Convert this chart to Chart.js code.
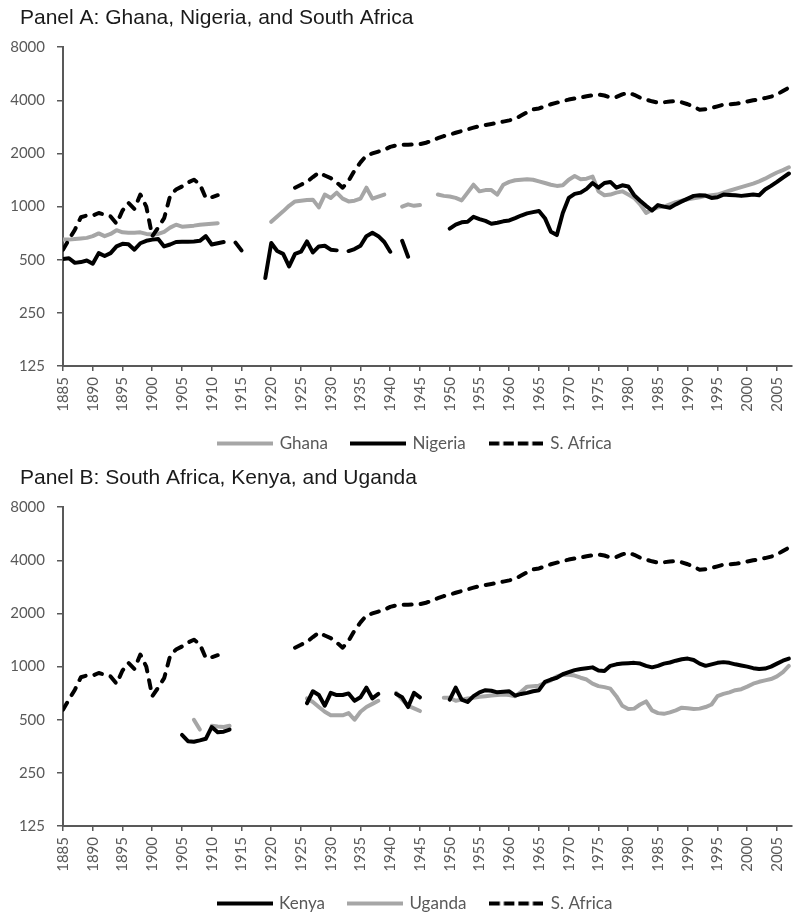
<!DOCTYPE html>
<html>
<head>
<meta charset="utf-8">
<script src="https://cdn.jsdelivr.net/npm/chart.js@4.4.1/dist/chart.umd.min.js"></script>
<style>
  html, body { margin: 0; padding: 0; background: #fff; overflow: hidden; }
  .panel { position: absolute; left: 0; width: 801px; height: 462px; }
  #panelA { top: 0; }
  #panelB { top: 460px; }
</style>
</head>
<body>
<div class="panel" id="panelA"><canvas id="chartA" width="801" height="462"></canvas></div>
<div class="panel" id="panelB"><canvas id="chartB" width="801" height="462"></canvas></div>
<script>
// Yıllar 1885 - 2007, değerler yıl sırasıyla (null = veri yok)
const years = [];
for (let y = 1885; y <= 2007; y++) years.push(y);

const xTicks = [1885, 1890, 1895, 1900, 1905, 1910, 1915, 1920, 1925, 1930, 1935, 1940, 1945,
                1950, 1955, 1960, 1965, 1970, 1975, 1980, 1985, 1990, 1995, 2000, 2005];
const yTicks = [125, 250, 500, 1000, 2000, 4000, 8000];

const ghana = [
  650, 650, 655, 660, 665, 680, 705, 680, 700, 735,          // 1885
  715, 710, 712, 715, 700, 695, 700, 720, 760, 790,          // 1895
  770, 775, 780, 790, 795, 800, 805, null, null, null,       // 1905
  null, null, null, null, null, 820, 880, 940, 1010, 1070,   // 1915
  1080, 1090, 1095, 990, 1170, 1120, 1200, 1110, 1070, 1080, // 1925
  1110, 1280, 1110, 1140, 1170, null, null, 1000, 1030, 1010, // 1935
  1020, null, null, 1170, 1150, 1140, 1120, 1085, 1200, 1330, // 1945
  1220, 1240, 1240, 1170, 1330, 1380, 1410, 1420, 1430, 1420, // 1955
  1390, 1360, 1330, 1310, 1320, 1420, 1490, 1430, 1440, 1480, // 1965
  1220, 1160, 1170, 1200, 1220, 1170, 1120, 1030, 920, 960,   // 1975
  990, 1000, 1030, 1060, 1080, 1100, 1115, 1130, 1150, 1160,  // 1985
  1170, 1200, 1230, 1260, 1290, 1320, 1350, 1390, 1440, 1500, // 1995
  1560, 1610, 1670                                           // 2005
];

const nigeria = [
  505, 510, 480, 485, 495, 475, 545, 525, 545, 595,          // 1885
  615, 612, 570, 620, 640, 650, 655, 595, 610, 630,          // 1895
  632, 632, 635, 640, 680, 610, 620, 630, null, 625,         // 1905
  565, null, null, null, 394, 622, 560, 540, 458, 540,       // 1915
  555, 635, 550, 595, 600, 570, 565, null, 560, 575,         // 1925
  600, 680, 710, 680, 630, 555, null, 640, 520, null,        // 1935
  null, null, null, null, null, 750, 790, 815, 820, 875,     // 1945
  850, 830, 800, 810, 825, 835, 860, 890, 915, 930,          // 1955
  945, 860, 720, 690, 920, 1120, 1180, 1200, 1260, 1360,     // 1965
  1280, 1360, 1380, 1280, 1320, 1300, 1160, 1080, 1010, 950, // 1975
  1020, 1000, 985, 1030, 1070, 1110, 1150, 1160, 1155, 1120, // 1985
  1130, 1170, 1165, 1160, 1150, 1160, 1170, 1160, 1250, 1310, // 1995
  1380, 1460, 1540                                           // 2005
];

const southAfrica = [
  570, 650, 740, 870, 890, 890, 920, 900, 880, 800,          // 1885
  950, 1050, 970, 1170, 1000, 680, 760, 860, 1150, 1250,     // 1895
  1300, 1370, 1420, 1340, 1120, 1130, 1160, null, null, null, // 1905
  null, null, null, null, null, null, null, null, null, 1280, // 1915
  1330, 1380, 1470, 1560, 1500, 1450, 1370, 1280, 1400, 1600, // 1925
  1780, 1950, 2000, 2050, 2100, 2180, 2220, 2240, 2240, 2250, // 1935
  2260, 2300, 2360, 2440, 2510, 2560, 2620, 2680, 2740, 2800, // 1945
  2860, 2900, 2940, 2980, 3030, 3080, 3140, 3280, 3420, 3550, // 1955
  3600, 3700, 3800, 3880, 3960, 4040, 4100, 4150, 4220, 4280, // 1965
  4320, 4260, 4150, 4180, 4320, 4420, 4300, 4140, 4040, 3950, // 1975
  3880, 3900, 3940, 3960, 3900, 3800, 3680, 3540, 3560, 3620, // 1985
  3700, 3780, 3800, 3820, 3880, 3940, 4000, 4060, 4120, 4200, // 1995
  4320, 4520, 4720                                           // 2005
];

const kenya = [
  null, null, null, null, null, null, null, null, null, null, // 1885
  null, null, null, null, null, null, null, null, null, null, // 1895
  410, 378, 375, 382, 390, 455, 425, 428, 440, null,         // 1905
  null, null, null, null, null, null, null, null, null, null, // 1915
  null, 620, 725, 690, 600, 710, 690, 690, 705, 640,         // 1925
  670, 760, 660, 700, null, null, 700, 670, 590, 710,        // 1935
  670, null, null, null, null, 650, 760, 650, 630, 680,      // 1945
  715, 735, 730, 715, 720, 725, 685, 700, 710, 725,          // 1955
  735, 820, 845, 865, 905, 930, 955, 970, 980, 990,          // 1965
  950, 945, 1010, 1030, 1040, 1045, 1050, 1040, 1010, 990,   // 1975
  1010, 1040, 1055, 1080, 1100, 1110, 1090, 1040, 1010, 1030, // 1985
  1050, 1060, 1050, 1030, 1015, 1000, 980, 970, 975, 1000,   // 1995
  1040, 1080, 1110                                           // 2005
];

const uganda = [
  null, null, null, null, null, null, null, null, null, null, // 1885
  null, null, null, null, null, null, null, null, null, null, // 1895
  null, null, 500, 440, null, 462, 458, 455, 462, null,      // 1905
  null, null, null, null, null, null, null, null, null, null, // 1915
  null, 660, 630, 590, 555, 530, 530, 530, 545, 500,         // 1925
  555, 590, 615, 640, null, null, 710, 650, 600, 580,        // 1935
  560, null, null, null, 665, 665, 640, 650, 660, 665,       // 1945
  675, 680, 685, 690, 695, 690, 680, 720, 770, 775,          // 1955
  780, 810, 835, 880, 900, 900, 890, 865, 845, 800,          // 1965
  775, 765, 750, 680, 600, 575, 578, 610, 635, 565,          // 1975
  545, 540, 550, 565, 585, 580, 575, 578, 590, 610,          // 1985
  680, 700, 715, 735, 745, 770, 800, 820, 835, 850,          // 1995
  880, 930, 1010                                             // 2005
];

const GRAY = '#a6a6a6';
const BLACK = '#000000';
const AXIS = '#595959';
const TICK_FONT = { family: 'Lato', size: 15 };

function toPoints(values) {
  return values.map((v, i) => ({ x: years[i], y: v }));
}

// Lejant için küçük çizgi örneği (canvas olarak)
function legendSample(color, dashed) {
  const c = document.createElement('canvas');
  c.width = dashed ? 54 : 56;
  c.height = 6;
  const g = c.getContext('2d');
  g.strokeStyle = color;
  g.lineWidth = 4;
  g.setLineDash(dashed ? [10.5, 4] : []);
  g.beginPath();
  g.moveTo(0, 3);
  g.lineTo(c.width, 3);
  g.stroke();
  return c;
}

function lineSet(label, values, color, dashed, order) {
  return {
    label: label,
    data: toPoints(values),
    borderColor: color,
    backgroundColor: color,
    borderWidth: 4,
    borderDash: dashed ? [8, 9] : [],
    borderCapStyle: 'round',
    borderJoinStyle: 'round',
    pointRadius: 0,
    pointHoverRadius: 0,
    tension: 0,
    spanGaps: false,
    fill: false,
    order: order,
    sample: legendSample(color, dashed)
  };
}

// Başlığı ve lejantı biraz kaydır
const shiftPlugin = {
  id: 'shiftBoxes',
  afterLayout(chart) {
    if (chart.titleBlock) chart.titleBlock.left = 20;
    if (chart.legend) chart.legend.left = 31;
  }
};

function makeChart(canvasId, title, datasets) {
  const ctx = document.getElementById(canvasId).getContext('2d');
  return new Chart(ctx, {
    type: 'line',
    data: { datasets: datasets },
    plugins: [shiftPlugin],
    options: {
      responsive: false,
      animation: false,
      devicePixelRatio: 1,
      layout: { padding: { left: 0, right: 1, top: 0, bottom: 0 } },
      plugins: {
        title: {
          display: true,
          text: title,
          align: 'start',
          color: '#1a1a1a',
          font: { family: 'Liberation Sans', size: 21, weight: 'normal' },
          padding: { top: 6, bottom: 16 }
        },
        legend: {
          position: 'bottom',
          labels: {
            usePointStyle: true,
            pointStyleWidth: 52,
            color: AXIS,
            font: { family: 'Lato', size: 17 },
            padding: 24,
            generateLabels: (chart) => chart.data.datasets.map((ds, i) => ({
              text: ds.label,
              fillStyle: ds.borderColor,
              strokeStyle: ds.borderColor,
              lineWidth: 0,
              pointStyle: ds.sample,
              hidden: false,
              datasetIndex: i,
              fontColor: AXIS
            }))
          }
        },
        tooltip: { enabled: false }
      },
      scales: {
        x: {
          type: 'linear',
          min: 1885,
          max: 2007.5,
          afterBuildTicks: (scale) => { scale.ticks = xTicks.map(v => ({ value: v })); },
          afterFit: (scale) => { scale.height = 45; },
          ticks: {
            autoSkip: false,
            minRotation: 90,
            maxRotation: 90,
            padding: 6,
            color: AXIS,
            font: TICK_FONT,
            callback: (v) => String(v)
          },
          grid: { drawOnChartArea: false, drawTicks: true, tickLength: 5, color: AXIS, lineWidth: 1.5 },
          border: { display: true, color: AXIS, width: 2 }
        },
        y: {
          type: 'logarithmic',
          min: 125,
          max: 8000,
          afterBuildTicks: (scale) => { scale.ticks = yTicks.map(v => ({ value: v })); },
          afterFit: (scale) => { scale.width = 63; },
          ticks: {
            padding: 12,
            color: AXIS,
            font: TICK_FONT,
            callback: (v) => String(v)
          },
          grid: { drawOnChartArea: false, drawTicks: true, tickLength: 6, color: AXIS, lineWidth: 1.5 },
          border: { display: true, color: AXIS, width: 2 }
        }
      }
    }
  });
}

makeChart('chartA', 'Panel A: Ghana, Nigeria, and South Africa', [
  lineSet('Ghana', ghana, GRAY, false, 2),
  lineSet('Nigeria', nigeria, BLACK, false, 1),
  lineSet('S. Africa', southAfrica, BLACK, true, 0)
]);

makeChart('chartB', 'Panel B: South Africa, Kenya, and Uganda', [
  lineSet('Kenya', kenya, BLACK, false, 1),
  lineSet('Uganda', uganda, GRAY, false, 2),
  lineSet('S. Africa', southAfrica, BLACK, true, 0)
]);
</script>
</body>
</html>
